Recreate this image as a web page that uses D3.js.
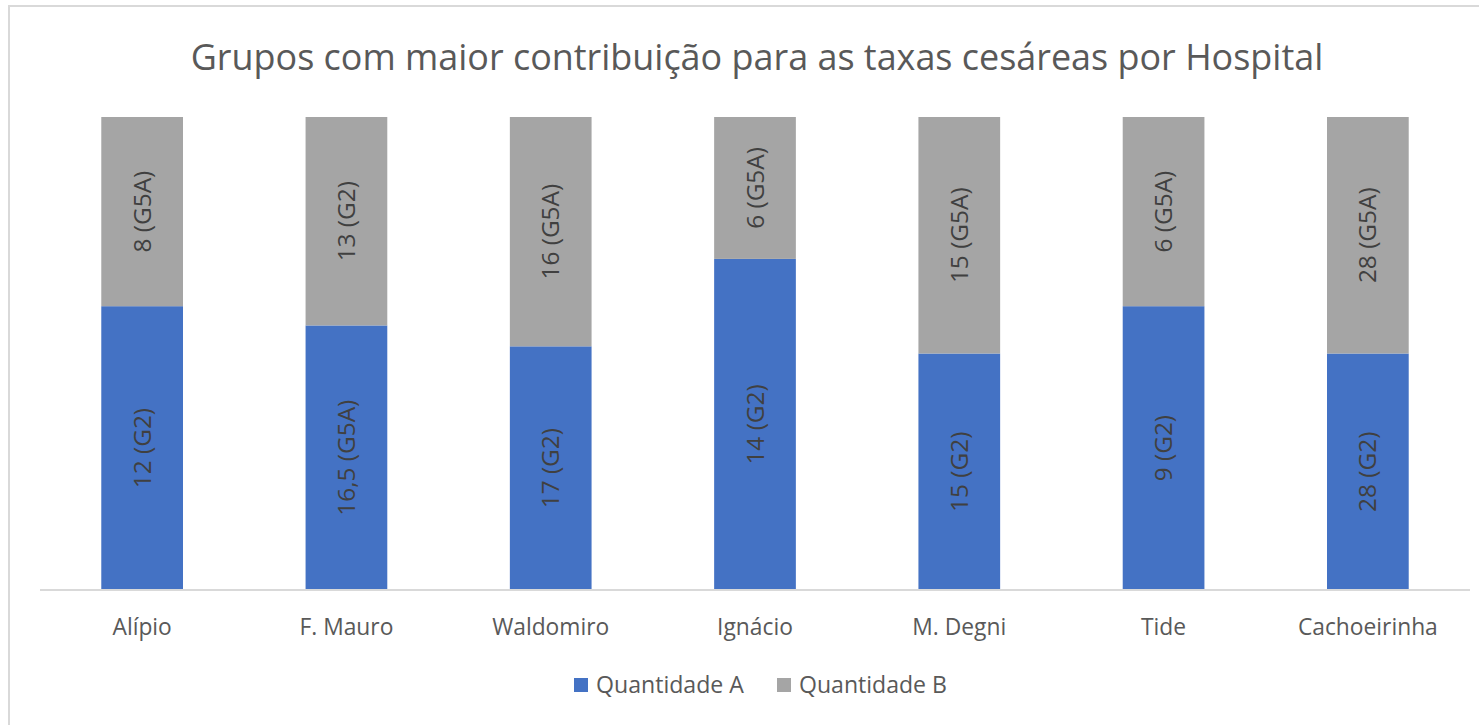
<!DOCTYPE html>
<html>
<head>
<meta charset="utf-8">
<script src="https://cdn.jsdelivr.net/npm/d3@7"></script>
<style>
  html, body { margin: 0; padding: 0; background: #ffffff; }
  svg { display: block; }
  text { font-family: "Open Sans", "Noto Sans", sans-serif; }
</style>
</head>
<body>
<svg id="chart" width="1479" height="725"></svg>
<script>
// Hospitals and the two quantities compared in each one
const hospitals = ["Alípio", "F. Mauro", "Waldomiro", "Ignácio", "M. Degni", "Tide", "Cachoeirinha"];
const quantidadeA = [12, 16.5, 17, 14, 15, 9, 28];
const quantidadeB = [8, 13, 16, 6, 15, 6, 28];
const grupoA = ["G2", "G5A", "G2", "G2", "G2", "G2", "G2"];
const grupoB = ["G5A", "G2", "G5A", "G5A", "G5A", "G5A", "G5A"];
const seriesNames = ["Quantidade A", "Quantidade B"];
const seriesColors = ["#4472c4", "#a5a5a5"];
const title = "Grupos com maior contribuição para as taxas cesáreas por Hospital";

const W = 1479, H = 725;
const svg = d3.select("#chart");

// outer frame
svg.append("path")
  .attr("d", `M9,${H} L9,6 L${W},6`)
  .attr("fill", "none").attr("stroke", "#d9d9d9").attr("stroke-width", 2);

// shrink/grow text so that it spans a given width
function fit(sel, target) {
  const node = sel.node();
  const fs = parseFloat(sel.attr("font-size"));
  const w = node.getComputedTextLength();
  sel.attr("font-size", (fs * target / w).toFixed(2));
  return sel;
}

const fmt = v => String(v).replace(".", ",");

const rows = hospitals.map((h, i) => ({
  hospital: h,
  a: quantidadeA[i], b: quantidadeB[i],
  la: `${fmt(quantidadeA[i])} (${grupoA[i]})`,
  lb: `${fmt(quantidadeB[i])} (${grupoB[i]})`
}));

// 100% stacked layout
const stacked = d3.stack()
  .keys(["a", "b"])
  .offset(d3.stackOffsetExpand)(rows);

const x = d3.scaleBand().domain(hospitals).range([40, 1470]).paddingInner(0.6).paddingOuter(0.3);
const y = d3.scaleLinear().domain([0, 1]).range([590, 117]);

// title
const t = svg.append("text")
  .attr("x", 757).attr("y", 70)
  .attr("text-anchor", "middle")
  .attr("font-size", 36)
  .attr("fill", "#595959")
  .text(title);
fit(t, 1133);

// bars
const labelKeys = ["la", "lb"];
stacked.forEach((layer, si) => {
  const g = svg.append("g");
  g.selectAll("rect").data(layer).join("rect")
    .attr("x", d => x(d.data.hospital))
    .attr("width", x.bandwidth())
    .attr("y", d => y(d[1]))
    .attr("height", d => y(d[0]) - y(d[1]))
    .attr("fill", seriesColors[si]);
});

// axis baseline
svg.append("g")
  .attr("transform", "translate(0,590)")
  .call(d3.axisBottom(x).tickSize(0).tickPadding(0).tickFormat(""))
  .call(g => g.select(".domain").attr("stroke", "#d9d9d9").attr("stroke-width", 2)
    .attr("d", "M40,0H1470"));

// value labels, rotated inside each segment
let labelSize = null;
stacked.forEach((layer, si) => {
  svg.append("g").selectAll("text").data(layer).join("text")
    .attr("transform", d => {
      const cx = x(d.data.hospital) + x.bandwidth() / 2;
      const cy = (y(d[0]) + y(d[1])) / 2;
      return `translate(${cx},${cy}) rotate(-90)`;
    })
    .attr("text-anchor", "middle")
    .attr("dy", "0.35em")
    .attr("font-size", 20)
    .attr("fill", "#404040")
    .text(d => d.data[labelKeys[si]]);
});
// size all value labels from the widest one
{
  const probe = svg.append("text").attr("font-size", 20).text("16,5 (G5A)");
  const w = probe.node().getComputedTextLength();
  probe.remove();
  labelSize = 20 * 116 / w;
  svg.selectAll("g text").attr("font-size", labelSize.toFixed(2));
}

// category labels
const catG = svg.append("g");
catG.selectAll("text").data(hospitals).join("text")
  .attr("x", d => x(d) + x.bandwidth() / 2)
  .attr("y", 635)
  .attr("text-anchor", "middle")
  .attr("font-size", 20)
  .attr("fill", "#595959")
  .text(d => d);
{
  const probe = svg.append("text").attr("font-size", 20).text("Cachoeirinha");
  const w = probe.node().getComputedTextLength();
  probe.remove();
  catG.selectAll("text").attr("font-size", (20 * 140 / w).toFixed(2));
}

// legend
const legend = svg.append("g");
const legendX = [574, 777];
seriesNames.forEach((name, i) => {
  legend.append("rect")
    .attr("x", legendX[i]).attr("y", 678)
    .attr("width", 14).attr("height", 14)
    .attr("fill", seriesColors[i]);
  const lt = legend.append("text")
    .attr("x", legendX[i] + 22).attr("y", 693)
    .attr("font-size", 20)
    .attr("fill", "#595959")
    .text(name);
  fit(lt, 148);
});
</script>
</body>
</html>
